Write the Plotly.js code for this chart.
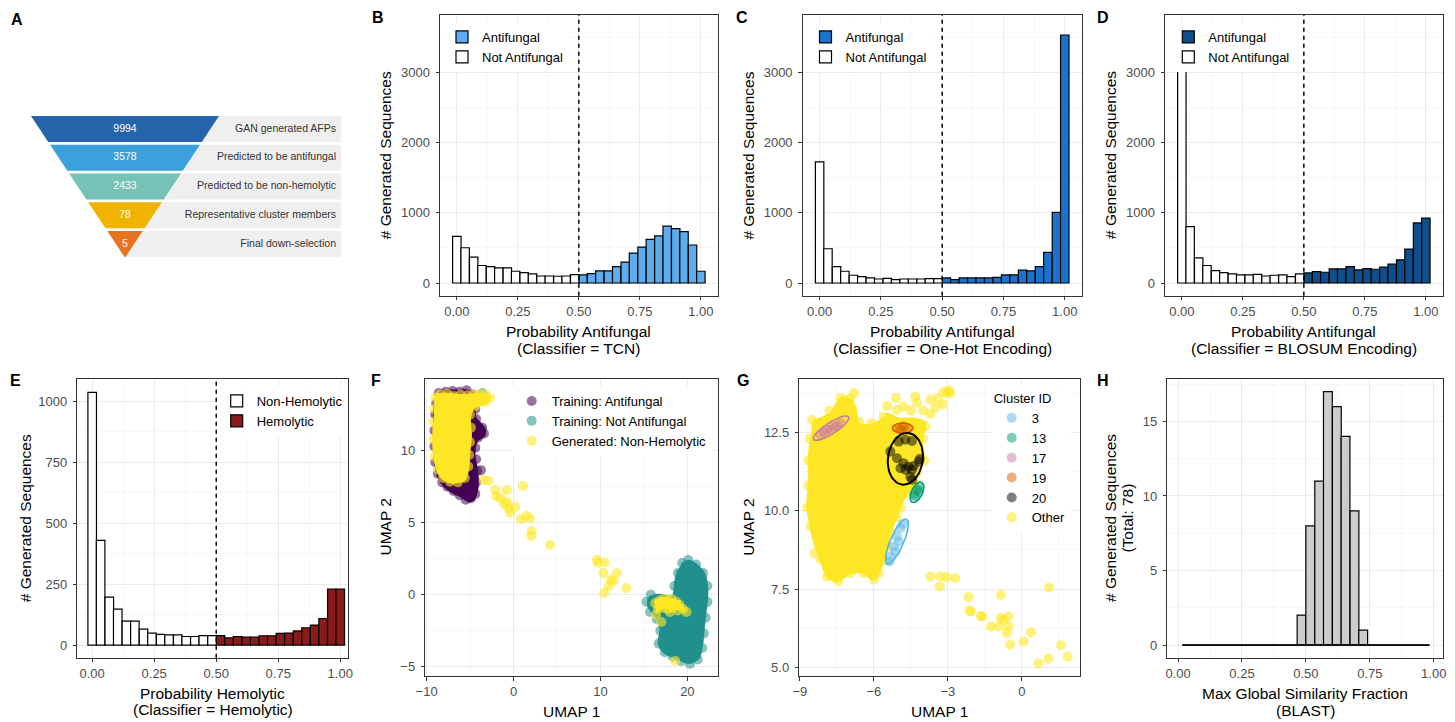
<!DOCTYPE html>
<html><head><meta charset="utf-8">
<script src="https://cdn.plot.ly/plotly-3.0.1.min.js"></script>
<style>html,body{margin:0;padding:0;background:#fff}#chart{width:1455px;height:722px}</style>
</head><body><div id="chart"></div>
<script>
// ================= DATA =================
// Panel A - funnel
const funnelStages = ['GAN generated AFPs','Predicted to be antifungal','Predicted to be non-hemolytic','Representative cluster members','Final down-selection'];
const funnelCounts = [9994, 3578, 2433, 78, 5];

// Panels B-E - histograms (30 bins)
const binCenters = [0.000,0.034,0.069,0.103,0.138,0.172,0.207,0.241,0.276,0.310,0.345,0.379,0.414,0.448,0.483,0.517,0.552,0.586,0.621,0.655,0.690,0.724,0.759,0.793,0.828,0.862,0.897,0.931,0.966,1.000];
const threshold = 0.5;
const tcnCounts       = [665,502,368,249,234,215,215,167,148,129,100,100,96,100,120,115,134,172,172,234,297,426,512,622,670,809,775,732,541,167];
const oneHotCounts    = [1725,488,234,167,110,91,72,57,67,48,57,57,57,62,62,72,48,72,72,72,72,81,115,115,182,172,234,435,1005,3533];
const blosumCounts    = [3640,804,359,249,177,148,129,115,115,124,100,110,115,91,129,144,163,153,201,201,234,187,206,196,225,268,330,483,856,923];
const hemolyticCounts = [1037,430,197,147,98,98,65,49,44,42,42,35,35,39,39,39,29,35,33,33,38,38,48,49,58,71,82,109,230,230];

// Panel H - BLAST similarity histogram
const blastBinCenters = [0.034,0.069,0.103,0.138,0.172,0.207,0.241,0.276,0.310,0.345,0.379,0.414,0.448,0.483,0.517,0.552,0.586,0.621,0.655,0.690,0.724,0.759,0.793,0.828,0.862,0.897,0.931,0.966];
const blastCounts     = [0,0,0,0,0,0,0,0,0,0,0,0,0,2,8,11,17,16,14,9,1,0,0,0,0,0,0,0];

// Panel F - UMAP (dense cores as outlines, plus individual points)
const fAntifungalCoreX = [-8.9,-8.4,-7.5,-6.5,-5.5,-4.8,-4.5,-4.4,-3.8,-3.3,-3.4,-4.2,-4.5,-4.3,-4.1,-4.2,-4.6,-5.2,-6.0,-7.0,-7.9,-8.6,-9.0,-9.15,-9.15,-9.1];
const fAntifungalCoreY = [13.6,14.1,14.2,14.15,14.2,14.0,13.3,12.3,11.9,11.5,11.0,10.7,9.8,9.0,8.0,7.2,6.6,6.5,6.8,7.1,7.5,8.1,9.0,10.5,12.0,13.0];
const fAntifungalX = [-8.6,-7.8,-7.0,-6.2,-5.4,-4.7,-4.4,-4.3,-3.6,-3.4,-4.1,-4.4,-4.3,-4.2,-3.75,-4.3,-4.4,-4.9,-5.5,-6.2,-6.9,-7.6,-8.2,-8.7,-9.0,-9.1,-9.1,-9.0,-8.9];
const fAntifungalY = [14.0,14.1,14.15,14.1,14.2,13.9,12.9,12.2,11.6,11.2,10.9,10.2,9.4,8.6,8.65,7.8,7.0,6.7,6.6,6.9,7.2,7.5,7.8,8.4,9.2,10.3,11.4,12.5,13.3];

const fNotAntifungalCoreX = [19.3,20.1,21.0,22.0,22.3,22.1,21.9,21.7,21.3,20.2,19.0,17.3,16.7,16.9,16.5,15.5,15.6,16.6,18.3,18.6,18.9];
const fNotAntifungalCoreY = [2.1,2.35,2.1,1.4,0.2,-1.2,-2.2,-3.5,-4.4,-4.75,-4.5,-4.0,-3.4,-2.4,-1.6,-0.8,-0.2,0.0,-0.1,0.9,1.7];
const fNotAntifungalX = [19.4,20.1,21.0,21.8,22.3,22.3,22.1,21.9,21.7,21.2,20.3,19.3,18.3,17.4,16.7,16.9,16.5,15.7,15.3,15.8,18.5,18.9,-3.6];
const fNotAntifungalY = [2.2,2.4,2.1,1.5,0.6,-0.5,-1.6,-2.7,-3.7,-4.5,-4.8,-4.6,-4.3,-4.0,-3.4,-2.5,-1.7,-1.2,-0.5,0.0,0.6,1.5,14.0];

const fGeneratedCoreX = [-9.1,-8.8,-7.5,-6.0,-4.6,-3.2,-2.7,-3.1,-4.5,-5.0,-4.9,-5.1,-5.2,-5.6,-6.5,-7.6,-8.4,-8.9,-9.2,-9.2];
const fGeneratedCoreY = [13.5,13.9,13.95,13.85,13.9,13.95,13.7,13.3,13.0,12.3,11.0,9.8,8.8,8.0,7.8,7.85,8.2,8.9,10.0,12.0];
const fGeneratedCore2X = [16.2,17.0,18.0,19.0,19.7,19.3,18.2,17.2,16.4];
const fGeneratedCore2Y = [-0.5,-0.25,-0.3,-0.5,-1.1,-1.0,-1.0,-0.9,-1.2];
const fGeneratedEdgeX = [-9.0,-8.4,-7.6,-6.9,-6.1,-5.3,-4.6,-3.9,-3.2,-2.7,-3.3,-4.4,-5.0,-4.9,-5.0,-5.1,-5.2,-5.6,-6.4,-7.3,-8.1,-8.7,-9.1,-9.2,-9.2,-9.1];
const fGeneratedEdgeY = [13.7,13.9,13.95,13.8,13.9,13.85,13.9,13.95,13.9,13.65,13.4,13.1,12.5,11.6,10.6,9.7,8.9,8.1,7.8,7.85,8.1,8.7,9.6,10.8,12.0,12.9];
const fGeneratedTrailX = [-3.45,-2.87,-2.1,-2.0,-1.5,-0.77,-0.77,-1.1,-0.57,0.2,-0.4,0.85,1.46,1.9,1.08,2.1,2.03,4.2,9.6,9.7,10.5,10.34,11.2,11.9,10.9,10.4,13.0,11.5];
const fGeneratedTrailY = [7.96,7.91,7.27,6.85,6.69,7.27,6.46,6.3,6.0,6.1,5.7,5.24,5.5,5.3,7.55,4.4,4.08,3.45,2.42,2.2,2.24,1.5,1.04,1.5,0.58,0.12,0.46,0.95];
const fGeneratedInTealX = [16.3,16.8,17.3,17.8,18.2,18.7,19.1,19.5,16.6,17.2,17.7,18.3,18.9,16.4,17.0,19.9,18.6,17.6,18.0];
const fGeneratedInTealY = [-0.6,-0.4,-0.3,-0.4,-0.3,-0.5,-0.7,-1.0,-1.0,-0.9,-1.0,-0.9,-1.1,-1.4,-1.9,-1.2,-4.6,-0.6,-1.2];

// Panel G - UMAP of generated non-hemolytic sequences
const gOtherCoreX = [-8.50,-7.76,-7.35,-6.95,-6.75,-6.61,-6.14,-5.60,-5.46,-5.00,-4.40,-3.95,-3.91,-4.05,-3.98,-4.25,-4.25,-4.65,-4.92,-5.06,-5.33,-5.46,-5.60,-5.80,-6.00,-6.41,-6.95,-7.49,-7.89,-8.16,-8.37,-8.57,-8.70,-8.64,-8.64,-8.57];
const gOtherCoreY = [12.85,13.12,13.60,13.56,13.33,12.80,12.74,12.96,13.10,12.95,12.95,12.85,12.69,12.27,11.63,11.20,10.77,10.56,10.14,9.82,9.28,8.86,8.43,8.01,7.79,8.01,8.01,7.74,7.90,8.43,8.86,9.50,10.14,10.77,11.63,12.27];
const gOtherX = [-8.5,-7.8,-7.35,-6.95,-6.8,-7.18,-6.6,-6.1,-5.6,-5.46,-5.1,-4.79,-4.32,-4.25,-3.71,-3.17,-2.9,-3.03,-3.2,-3.5,-3.7,-4.0,-4.5,-5.06,-3.4,-2.95,-3.9,-4.0,-3.95,-4.25,-4.6,-4.9,-5.06,-5.3,-5.45,-5.6,-5.8,-6.0,-6.4,-6.95,-7.45,-7.9,-8.16,-8.4,-8.55,-8.7,-8.65,-8.65,-8.6,
  -3.71,-3.31,-3.06,-2.70,-3.33,-2.16,-2.12,-2.06,-1.66,-1.60,-1.25,-0.85,-0.85,-0.74,-0.54,-0.94,-0.61,-0.54,-0.47,0.07,0.38,0.68,1.08,1.11,1.59,1.86];
const gOtherY = [12.9,13.2,13.6,13.6,13.76,13.54,12.85,12.8,13.0,13.35,13.6,13.33,13.65,13.45,13.55,13.8,13.76,13.76,13.4,13.3,13.1,13.2,13.2,13.22,13.6,13.85,12.7,12.3,11.6,11.2,10.56,10.1,9.8,9.3,8.85,8.4,8.0,7.8,8.0,8.0,7.75,7.9,8.45,8.64,9.5,10.1,10.8,11.6,12.3,
  7.90,7.90,7.88,7.85,7.58,7.24,6.81,6.78,6.64,6.62,6.30,7.31,6.57,6.51,6.62,6.30,6.09,6.30,5.72,5.82,6.12,5.13,5.27,7.55,5.70,5.34];
const clusterIds = ['3','13','17','19','20'];
const clusterPointsX = [
  [-5.33,-5.19,-5.06,-4.92,-4.82,-5.13,-4.99,-5.36],
  [-4.32,-4.22,-4.14,-4.36,-4.18],
  [-8.16,-7.89,-7.62,-7.35,-8.0,-7.75,-7.5],
  [-4.99,-4.79,-4.65,-4.9],
  [-4.72,-4.45,-4.99,-5.33,-5.06,-4.79,-4.59,-4.72,-4.45,-4.18,-4.14,-4.52,-4.92,-4.38,-4.45]];
const clusterPointsY = [
  [8.54,8.86,9.18,9.44,9.58,8.70,9.02,8.38],
  [10.46,10.67,10.77,10.52,10.6],
  [12.43,12.59,12.69,12.80,12.5,12.6,12.72],
  [12.64,12.69,12.59,12.6],
  [12.27,12.23,12.21,11.89,11.68,11.52,11.41,11.31,11.31,11.57,11.65,11.09,11.36,11.43,10.99]];
// confidence ellipses: centre, first semi-axis vector, second semi-axis vector (data units)
const ellipseCx = [-5.06, -4.25, -7.73, -4.83, -4.72];
const ellipseCy = [ 9.02, 10.59, 12.64, 12.64, 11.66];
const ellipseAx = [0.39, 0.19, 0.709, 0.418, 0.135];
const ellipseAy = [0.71, 0.32, 0.362, 0.0,   0.825];
const ellipseBx = [0.248, 0.20, 0.125, 0.0,  0.70];
const ellipseBy = [-0.084,-0.075,-0.152,0.16,-0.071];

// ================= STYLE / LAYOUT =================
const W = 1455, H = 722;
const px = v => v / W, py = v => 1 - v / H;
const FONT = 'Liberation Sans, Arial, Helvetica, sans-serif';
const binWidth = 1 / 29;
const traces = [];

function addHist(counts, color, nameHi, nameLo, xa, ya, legendId, hiFirst) {
  const lo = {x: [], y: []}, hi = {x: [], y: []};
  binCenters.forEach((c, i) => { const t = c < threshold ? lo : hi; t.x.push(c); t.y.push(counts[i]); });
  const base = {type: 'bar', width: binWidth, xaxis: xa, yaxis: ya, legend: legendId, hoverinfo: 'skip'};
  traces.push(Object.assign({}, base, {x: hi.x, y: hi.y, name: nameHi, legendrank: hiFirst ? 1 : 2,
    marker: {color: color, line: {color: '#000000', width: 1.2}}}));
  traces.push(Object.assign({}, base, {x: lo.x, y: lo.y, name: nameLo, legendrank: hiFirst ? 2 : 1,
    marker: {color: '#FFFFFF', line: {color: '#000000', width: 1.2}}}));
}
addHist(tcnCounts, '#5CACEE', 'Antifungal', 'Not Antifungal', 'x', 'y', 'legend', true);
addHist(oneHotCounts, '#1874CD', 'Antifungal', 'Not Antifungal', 'x2', 'y2', 'legend2', true);
addHist(blosumCounts, '#104E8B', 'Antifungal', 'Not Antifungal', 'x3', 'y3', 'legend3', true);
addHist(hemolyticCounts, '#8B1A1A', 'Hemolytic', 'Non-Hemolytic', 'x4', 'y4', 'legend4', false);

// H
traces.push({type: 'scatter', mode: 'lines', x: [blastBinCenters[0] - binWidth / 2, blastBinCenters[blastBinCenters.length - 1] + binWidth / 2], y: [0, 0],
  line: {color: '#000', width: 1.6}, xaxis: 'x7', yaxis: 'y7', showlegend: false, hoverinfo: 'skip'});
traces.push({type: 'bar', x: blastBinCenters, y: blastCounts, width: binWidth, marker: {color: '#CCCCCC', line: {color: '#000', width: 1.2}},
  xaxis: 'x7', yaxis: 'y7', showlegend: false, hoverinfo: 'skip'});

// F
function core(x, y, color, xa, ya) {
  traces.push({type: 'scatter', mode: 'lines', x: x, y: y, fill: 'toself', fillcolor: color,
    line: {color: color, width: 2, shape: 'spline', smoothing: 0.8}, xaxis: xa, yaxis: ya, showlegend: false, hoverinfo: 'skip'});
}
function pts(x, y, color, name, xa, ya, legendId, size, op, rank) {
  traces.push({type: 'scatter', mode: 'markers', x: x, y: y, name: name, legend: legendId, legendrank: rank,
    marker: {color: color, size: size, opacity: op, line: {width: 0}}, xaxis: xa, yaxis: ya, hoverinfo: 'skip'});
}
const VPURPLE = '#440154', VTEAL = '#21908C', VYELLOW = '#FDE725';
core(fAntifungalCoreX, fAntifungalCoreY, VPURPLE, 'x5', 'y5');
pts(fAntifungalX, fAntifungalY, VPURPLE, 'Training: Antifungal', 'x5', 'y5', 'legend5', 10, 0.55, 1);
core(fNotAntifungalCoreX, fNotAntifungalCoreY, VTEAL, 'x5', 'y5');
pts(fNotAntifungalX, fNotAntifungalY, VTEAL, 'Training: Not Antifungal', 'x5', 'y5', 'legend5', 10, 0.55, 2);
core(fGeneratedCoreX, fGeneratedCoreY, VYELLOW, 'x5', 'y5');
core(fGeneratedCore2X, fGeneratedCore2Y, VYELLOW, 'x5', 'y5');
pts(fGeneratedEdgeX.concat(fGeneratedTrailX, fGeneratedInTealX), fGeneratedEdgeY.concat(fGeneratedTrailY, fGeneratedInTealY),
    VYELLOW, 'Generated: Non-Hemolytic', 'x5', 'y5', 'legend5', 10, 0.6, 3);

// G
core(gOtherCoreX, gOtherCoreY, VYELLOW, 'x6', 'y6');
pts(gOtherX, gOtherY, VYELLOW, 'Other', 'x6', 'y6', 'legend6', 10, 0.6, 6);
const clusterColors = ['#56B4E9', '#009E73', '#CC79A7', '#D55E00', '#000000'];
clusterIds.forEach((id, k) => {
  const ex = [], ey = [];
  for (let i = 0; i <= 72; i++) {
    const t = i / 72 * 2 * Math.PI;
    ex.push(ellipseCx[k] + ellipseAx[k] * Math.cos(t) + ellipseBx[k] * Math.sin(t));
    ey.push(ellipseCy[k] + ellipseAy[k] * Math.cos(t) + ellipseBy[k] * Math.sin(t));
  }
  pts(clusterPointsX[k], clusterPointsY[k], clusterColors[k], id, 'x6', 'y6', 'legend6', 10, 0.5, k + 1);
  traces.push({type: 'scatter', mode: 'lines', x: ex, y: ey, line: {color: clusterColors[k], width: id === '20' ? 2 : 1.6},
    xaxis: 'x6', yaxis: 'y6', showlegend: false, hoverinfo: 'skip'});
});

// A - funnel diagram
const funnelColors = ['#2563AA', '#3CA0DC', '#76C2B7', '#F0B400', '#E8731E'];
const rowHeight = 0.905, apexDepth = 4.93;
const rowMid = funnelCounts.map((_, i) => i + rowHeight / 2);
traces.push({type: 'bar', orientation: 'h', y: rowMid, x: funnelCounts.map(() => 2.30), base: 0, width: rowHeight,
  marker: {color: '#EFEFEF', line: {width: 0}}, xaxis: 'x8', yaxis: 'y8', showlegend: false, hoverinfo: 'skip'});
funnelCounts.forEach((c, i) => {
  const top = i, bot = i + rowHeight;
  const hwT = 1 - top / apexDepth, hwB = Math.max(0, 1 - bot / apexDepth);
  traces.push({type: 'scatter', mode: 'lines', x: [-hwT, hwT, hwB, -hwB], y: [top, top, bot, bot], fill: 'toself',
    fillcolor: funnelColors[i], line: {width: 0, color: funnelColors[i]}, xaxis: 'x8', yaxis: 'y8', showlegend: false, hoverinfo: 'skip'});
});
traces.push({type: 'scatter', mode: 'text', x: funnelCounts.map(() => 0), y: rowMid, text: funnelCounts.map(String),
  textposition: 'middle center', textfont: {family: FONT, size: 10.5, color: '#FFFFFF'}, xaxis: 'x8', yaxis: 'y8', showlegend: false, hoverinfo: 'skip'});
traces.push({type: 'scatter', mode: 'text', x: funnelCounts.map(() => 2.245), y: rowMid, text: funnelStages,
  textposition: 'middle left', textfont: {family: FONT, size: 10.5, color: '#333333'}, xaxis: 'x8', yaxis: 'y8', showlegend: false, hoverinfo: 'skip'});

function ax(extra) {
  return Object.assign({
    showline: true, mirror: true, linecolor: '#333333', linewidth: 1,
    ticks: 'outside', ticklen: 3.5, tickwidth: 1, tickcolor: '#333333',
    tickfont: {family: FONT, size: 13, color: '#4D4D4D'},
    showgrid: true, gridcolor: '#EBEBEB', gridwidth: 1,
    zeroline: false, tickmode: 'linear', tick0: 0, fixedrange: true, automargin: false
  }, extra);
}
const yax = extra => ax(Object.assign({ticklabelstandoff: 3}, extra));
const minor = d => ({tick0: 0, dtick: d, showgrid: true, gridcolor: '#F4F4F4', gridwidth: 0.6, ticks: ''});
const rowTopY = [py(295.7), py(15)];
const rowBotY = [py(657.7), py(379)];
const rowBotY2 = [py(676), py(379)];

const annotations = [];
function txt(x, y, s, size, extra) {
  annotations.push(Object.assign({xref: 'paper', yref: 'paper', x: px(x), y: py(y), text: s, showarrow: false,
    xanchor: 'center', yanchor: 'middle', font: {family: FONT, size: size, color: '#000'}}, extra || {}));
}
// panel letters
[['A', 17, 20], ['B', 378.3, 17.5], ['C', 741.7, 17.5], ['D', 1103.3, 17.5],
 ['E', 15.7, 380.8], ['F', 376.2, 380.8], ['G', 743.3, 380.8], ['H', 1102.8, 380.8]]
  .forEach(([s, x, y]) => txt(x, y, '<b>' + s + '</b>', 16));
// axis titles
const T = 15.5;
txt(578.85, 331.7, 'Probability Antifungal', T); txt(578.85, 348.3, '(Classifier = TCN)', T);
txt(942.2, 331.7, 'Probability Antifungal', T); txt(942.2, 348.3, '(Classifier = One-Hot Encoding)', T);
txt(1303.9, 331.7, 'Probability Antifungal', T); txt(1303.9, 348.3, '(Classifier = BLOSUM Encoding)', T);
txt(385, 155.3, '# Generated Sequences', T, {textangle: -90});
txt(748.3, 155.3, '# Generated Sequences', T, {textangle: -90});
txt(1110.7, 155.3, '# Generated Sequences', T, {textangle: -90});
txt(212.5, 693.3, 'Probability Hemolytic', T); txt(212.5, 709.3, '(Classifier = Hemolytic)', T);
txt(25, 518.3, '# Generated Sequences', T, {textangle: -90});
txt(571.5, 711.7, 'UMAP 1', T); txt(385, 527.5, 'UMAP 2', T, {textangle: -90});
txt(939.7, 711.7, 'UMAP 1', T); txt(748.3, 527.5, 'UMAP 2', T, {textangle: -90});
txt(1305, 693.3, 'Max Global Similarity Fraction', T); txt(1305, 710, '(BLAST)', T);
txt(1110.7, 518.3, '# Generated Sequences', T, {textangle: -90});
txt(1127.3, 518.3, '(Total: 78)', T, {textangle: -90});

const shapes = [['x', 'y'], ['x2', 'y2'], ['x3', 'y3'], ['x4', 'y4']].map(([xa, ya]) => ({
  type: 'line', xref: xa, yref: ya + ' domain', x0: threshold, x1: threshold, y0: 0, y1: 1,
  line: {color: '#000000', width: 1.5, dash: '4px,4px'}, layer: 'above'}));

function legendAt(x, y, extra) {
  return Object.assign({x: px(x), y: py(y), xanchor: 'left', yanchor: 'top', xref: 'paper', yref: 'paper',
    bgcolor: '#FFFFFF', borderwidth: 0, font: {family: FONT, size: 13, color: '#000'},
    tracegroupgap: 0, itemclick: false, itemdoubleclick: false, orientation: 'v'}, extra || {});
}

const layout = {
  width: W, height: H, margin: {l: 0, r: 0, t: 0, b: 0}, paper_bgcolor: '#FFFFFF', plot_bgcolor: '#FFFFFF',
  font: {family: FONT, color: '#000'}, barmode: 'overlay', showlegend: true, hovermode: false,
  xaxis:  ax({domain: [px(440), px(717.7)], anchor: 'y', range: [-0.069, 1.069], dtick: 0.25, tickformat: '.2f', minor: minor(0.125)}),
  yaxis:  yax({domain: rowTopY, anchor: 'x', range: [-181, 3818], dtick: 1000, minor: minor(500)}),
  xaxis2: ax({domain: [px(802.7), px(1081.7)], anchor: 'y2', range: [-0.069, 1.069], dtick: 0.25, tickformat: '.2f', minor: minor(0.125)}),
  yaxis2: yax({domain: rowTopY, anchor: 'x2', range: [-181, 3818], dtick: 1000, minor: minor(500)}),
  xaxis3: ax({domain: [px(1165), px(1442.7)], anchor: 'y3', range: [-0.069, 1.069], dtick: 0.25, tickformat: '.2f', minor: minor(0.125)}),
  yaxis3: yax({domain: rowTopY, anchor: 'x3', range: [-181, 3818], dtick: 1000, minor: minor(500)}),
  xaxis4: ax({domain: [px(77.3), px(347.7)], anchor: 'y4', range: [-0.060, 1.030], dtick: 0.25, tickformat: '.2f', minor: minor(0.125)}),
  yaxis4: yax({domain: rowBotY, anchor: 'x4', range: [-52, 1092], dtick: 250, minor: minor(125)}),
  xaxis5: ax({domain: [px(425.3), px(717.7)], anchor: 'y5', range: [-10.15, 23.49], dtick: 10, minor: minor(5)}),
  yaxis5: yax({domain: rowBotY2, anchor: 'x5', range: [-5.65, 14.98], dtick: 5, minor: minor(2.5)}),
  xaxis6: ax({domain: [px(799.3), px(1080)], anchor: 'y6', range: [-9.02, 2.36], dtick: 3, minor: minor(1.5)}),
  yaxis6: yax({domain: rowBotY2, anchor: 'x6', range: [4.72, 14.21], dtick: 2.5, tickformat: '.1f', minor: minor(1.25)}),
  xaxis7: ax({domain: [px(1167.3), px(1442.7)], anchor: 'y7', range: [-0.042, 1.035], dtick: 0.25, tickformat: '.2f', minor: minor(0.125)}),
  yaxis7: yax({domain: rowBotY, anchor: 'x7', range: [-0.85, 17.85], dtick: 5, minor: minor(2.5)}),
  xaxis8: {domain: [0, px(360)], anchor: 'y8', range: [-1.3298, 2.5], visible: false, fixedrange: true},
  yaxis8: {domain: [py(272), py(100)], anchor: 'x8', range: [5.426, -0.5565], visible: false, fixedrange: true},
  legend:  legendAt(442, 22),
  legend2: legendAt(805.5, 22),
  legend3: legendAt(1168.3, 22),
  legend4: legendAt(216.7, 386),
  legend5: legendAt(511.7, 386),
  legend6: legendAt(991.7, 386, {title: {text: 'Cluster ID', font: {family: FONT, size: 13, color: '#000'}}}),
  annotations: annotations,
  shapes: shapes
};

Plotly.newPlot('chart', traces, layout, {staticPlot: true, displayModeBar: false});
</script>
</body></html>
